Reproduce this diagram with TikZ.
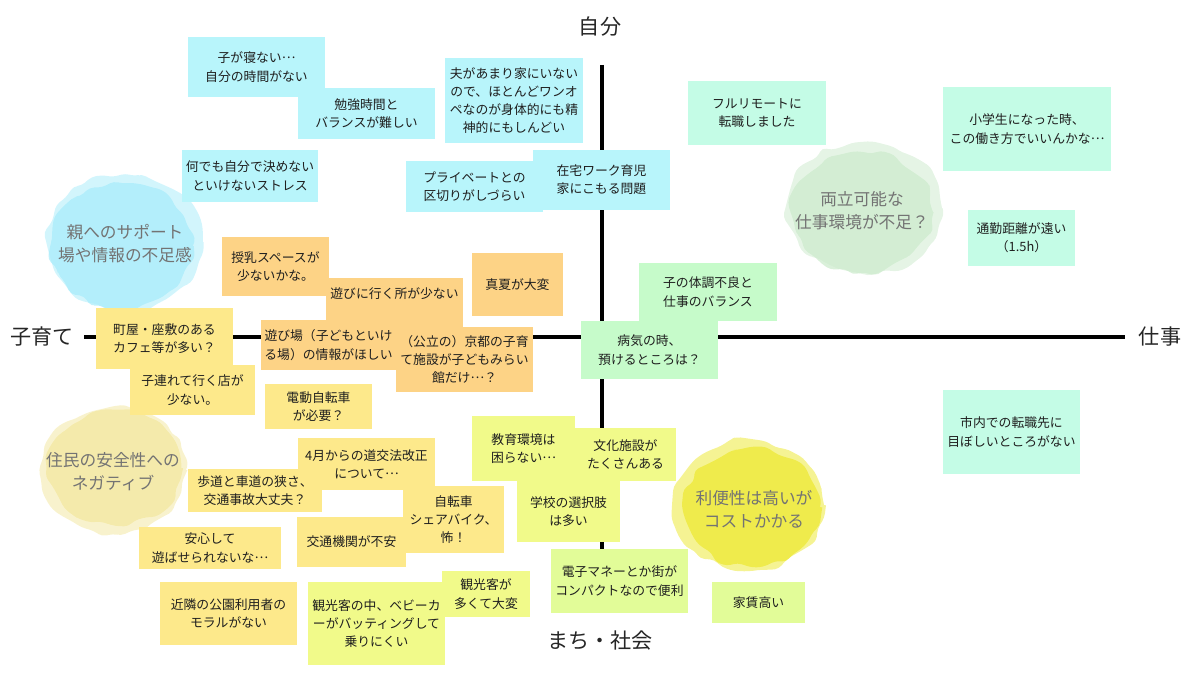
\documentclass[tikz,border=0pt]{standalone}
\usepackage{fontspec}
\setmainfont{Noto Sans CJK JP}
\usetikzlibrary{decorations.pathmorphing}

\definecolor{stickycyan}{HTML}{B8F5FB}
\definecolor{stickymint}{HTML}{C4FCE6}
\definecolor{stickygreen}{HTML}{C6FBCA}
\definecolor{stickyorange}{HTML}{FDD386}
\definecolor{stickyyellow}{HTML}{FDE98B}
\definecolor{stickylime}{HTML}{F1FA8A}
\definecolor{stickylimeb}{HTML}{E2FC98}
\definecolor{cloudblue}{HTML}{A6EBFA}
\definecolor{cloudgreen}{HTML}{CBEACB}
\definecolor{cloudpale}{HTML}{F2E69C}
\definecolor{cloudlemon}{HTML}{EDE93A}

% centred ellipsis
\newcommand{\midellipsis}{\raisebox{.3em}{…}}

\begin{document}
\begin{tikzpicture}[x=0.02cm,y=-0.02cm,
  sticky/.style={inner sep=1pt,align=center,text=black!88,font=\fontsize{7.3}{10.4}\selectfont},
  axislabel/.style={font=\fontsize{12}{14}\selectfont,text=black!85},
  cloudlabel/.style={align=center,text=black!55,font=\fontsize{9.5}{13}\selectfont},
  blob/.style={decorate,decoration={random steps,segment length=6pt,amplitude=2pt},rounded corners=2.5pt}]
  \useasboundingbox (0,0) rectangle (1200,675);
  \pgfmathsetseed{11}

  % Clouds
  \fill[cloudblue,blob,opacity=.5] (125,242) ellipse [x radius=1.56cm,y radius=1.36cm];
  \fill[cloudblue,blob,opacity=.7] (122,246) ellipse [x radius=1.42cm,y radius=1.24cm];
  \fill[cloudgreen,blob,opacity=.5] (864,208) ellipse [x radius=1.56cm,y radius=1.32cm];
  \fill[cloudgreen,blob,opacity=.7] (862,212) ellipse [x radius=1.42cm,y radius=1.2cm];
  \fill[cloudpale,blob,opacity=.5] (113,470) ellipse [x radius=1.46cm,y radius=1.26cm];
  \fill[cloudpale,blob,opacity=.7] (115,468) ellipse [x radius=1.33cm,y radius=1.14cm];
  \fill[cloudlemon,blob,opacity=.55] (749,505) ellipse [x radius=1.5cm,y radius=1.3cm];
  \fill[cloudlemon,blob,opacity=.8] (752,507) ellipse [x radius=1.36cm,y radius=1.18cm];

  \node[cloudlabel] (support) at (125,244) {親へのサポート\\場や情報の不足感};
  \node[cloudlabel] (balance) at (862,211) {両立可能な\\仕事環境が不足？};
  \node[cloudlabel] (safety) at (113,472) {住民の安全性への\\ネガティブ};
  \node[cloudlabel] (cost) at (754,509) {利便性は高いが\\コストかかる};

  % Axis
  \coordinate (axtop) at (602,65);
  \coordinate (axbot) at (602,600);
  \coordinate (axleft) at (84,337);
  \coordinate (axright) at (1125,337);
  \draw[line width=2.2pt] (axtop) -- (axbot);
  \draw[line width=2.2pt] (axleft) -- (axright);

  \node[axislabel] (self) at (600,27) {自分};
  \node[axislabel] (town) at (600,641) {まち・社会};
  \node[axislabel] (child) at (42,337) {子育て};
  \node[axislabel] (work) at (1160,337) {仕事};

  % Self
  \node[sticky,fill=stickycyan,minimum width=2.74cm,minimum height=1.2cm] (sleep) at (256.5,67) {子が寝ない\midellipsis\\自分の時間がない};
  \node[sticky,fill=stickycyan,minimum width=2.74cm,minimum height=1.02cm] (study) at (366.5,113.5) {勉強時間と\\バランスが難しい};
  \node[sticky,fill=stickycyan,minimum width=2.72cm,minimum height=1.04cm] (decide) at (250,176) {何でも自分で決めない\\といけないストレス};
  \node[sticky,fill=stickycyan,minimum width=2.76cm,minimum height=1.7cm] (husband) at (514,100.5) {夫があまり家にいない\\ので、ほとんどワンオ\\ペなのが身体的にも精\\神的にもしんどい};
  \node[sticky,fill=stickycyan,minimum width=2.74cm,minimum height=1.02cm] (private) at (474.5,186.5) {プライベートとの\\区切りがしづらい};
  \node[sticky,fill=stickycyan,minimum width=2.74cm,minimum height=1.2cm] (homework) at (601.5,180) {在宅ワーク育児\\家にこもる問題};

  % Work
  \node[sticky,fill=stickymint,minimum width=2.76cm,minimum height=1.28cm] (remote) at (757,113) {フルリモートに\\転職しました};
  \node[sticky,fill=stickymint,minimum width=3.36cm,minimum height=1.68cm] (school) at (1027,129) {小学生になった時、\\この働き方でいいんかな\midellipsis};
  \node[sticky,fill=stickymint,minimum width=2.14cm,minimum height=1.12cm] (commute) at (1021.5,238) {通勤距離が遠い\\（1.5h）};
  \node[sticky,fill=stickymint,minimum width=2.74cm,minimum height=1.68cm] (jobs) at (1011.5,432) {市内での転職先に\\目ぼしいところがない};
  \node[sticky,fill=stickygreen,minimum width=2.76cm,minimum height=1.16cm] (sick) at (708,292) {子の体調不良と\\仕事のバランス};
  \node[sticky,fill=stickygreen,minimum width=2.74cm,minimum height=1.16cm] (care) at (649.5,350) {病気の時、\\預けるところは？};

  % Child rearing
  \node[sticky,fill=stickyorange,minimum width=2.14cm,minimum height=1.18cm] (nursing) at (275.5,266.5) {授乳スペースが\\少ないかな。};
  \node[sticky,fill=stickyorange,minimum width=2.74cm,minimum height=1.04cm,text depth=12pt] (play) at (394.5,304) {遊びに行く所が少ない};
  \node[sticky,fill=stickyorange,minimum width=1.82cm,minimum height=1.26cm] (summer) at (517.5,284.5) {真夏が大変};
  \node[sticky,fill=stickyorange,minimum width=2.72cm,minimum height=1.0cm] (playinfo) at (328.5,345) {遊び場（子どもといけ\\る場）の情報がほしい};
  \node[sticky,fill=stickyorange,minimum width=2.74cm,minimum height=1.3cm] (mirai) at (464.5,359.5) {（公立の）京都の子育\\て施設が子どもみらい\\館だけ\midellipsis？};

  \node[sticky,fill=stickyyellow,minimum width=2.74cm,minimum height=1.22cm] (cafe) at (164.5,338.5) {町屋・座敷のある\\カフェ等が多い？};
  \node[sticky,fill=stickyyellow,minimum width=2.5cm,minimum height=1.0cm] (shops) at (192.5,390) {子連れて行く店が\\少ない。};
  \node[sticky,fill=stickyyellow,minimum width=2.14cm,minimum height=0.9cm] (ebike) at (318.5,406.5) {電動自転車\\が必要？};
  \node[sticky,fill=stickyyellow,minimum width=2.74cm,minimum height=1.04cm] (law) at (366.5,464) {4月からの道交法改正\\について\midellipsis};
  \node[sticky,fill=stickyyellow,minimum width=2.68cm,minimum height=0.86cm] (sidewalk) at (255,490.5) {歩道と車道の狭さ、\\交通事故大丈夫？};
  \node[sticky,fill=stickyyellow,minimum width=2.84cm,minimum height=0.84cm] (relax) at (210,548) {安心して\\遊ばせられないな\midellipsis};
  \node[sticky,fill=stickyyellow,minimum width=2.18cm,minimum height=1.0cm] (transit) at (351.5,542) {交通機関が不安};
  \node[sticky,fill=stickyyellow,minimum width=2.02cm,minimum height=1.34cm] (sharebike) at (453.5,519.5) {自転車\\シェアバイク、\\怖！};
  \node[sticky,fill=stickyyellow,minimum width=2.74cm,minimum height=1.26cm] (manners) at (228.5,613.5) {近隣の公園利用者の\\モラルがない};

  % Town
  \node[sticky,fill=stickylime,minimum width=2.06cm,minimum height=1.3cm] (edu) at (523.5,448.5) {教育環境は\\困らない\midellipsis};
  \node[sticky,fill=stickylime,minimum width=2.02cm,minimum height=1.06cm] (culture) at (625.5,454.5) {文化施設が\\たくさんある};
  \node[sticky,fill=stickylime,minimum width=2.06cm,minimum height=1.22cm] (choice) at (568.5,511.5) {学校の選択肢\\は多い};
  \node[sticky,fill=stickylimeb,minimum width=2.74cm,minimum height=1.28cm] (compact) at (619.5,581) {電子マネーとか街が\\コンパクトなので便利};
  \node[sticky,fill=stickylimeb,minimum width=1.86cm,minimum height=0.82cm] (rent) at (758.5,602.5) {家賃高い};
  \node[sticky,fill=stickylime,minimum width=2.74cm,minimum height=1.66cm] (stroller) at (376.5,623.5) {観光客の中、ベビーカ\\ーがバッティングして\\乗りにくい};
  \node[sticky,fill=stickylime,minimum width=1.76cm,minimum height=0.92cm] (tourists) at (486,594) {観光客が\\多くて大変};

\end{tikzpicture}
\end{document}
